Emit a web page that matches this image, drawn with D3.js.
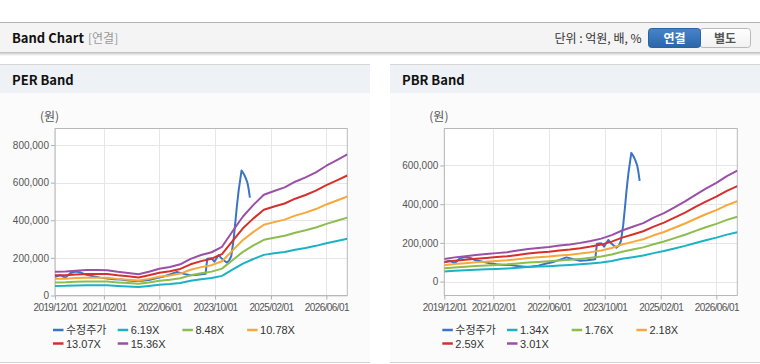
<!DOCTYPE html>
<html><head><meta charset="utf-8">
<script src="https://cdn.jsdelivr.net/npm/d3@7"></script>
<style>
html,body{margin:0;padding:0;background:#fff;}
svg{display:block;}
</style></head>
<body>
<svg id="chart" width="760" height="364"></svg>
<script>
// ---------- DATA ----------
const bandDates = ["2019-12-01","2020-03-01","2020-06-01","2020-09-01","2020-12-01","2021-03-01","2021-06-01","2021-09-01","2021-12-01","2022-03-01","2022-06-01","2022-09-01","2022-12-01","2023-03-01","2023-06-01","2023-09-01","2023-12-01","2024-03-01","2024-06-01","2024-09-01","2024-12-01","2025-03-01","2025-06-01","2025-09-01","2025-12-01","2026-03-01","2026-06-01","2026-09-01","2026-12-01"];

const priceDates = ["2019-12-01","2020-01-15","2020-03-01","2020-04-15","2020-06-01","2020-07-15","2020-09-01","2020-11-01","2021-01-01","2021-03-01","2021-05-01","2021-07-01","2021-09-01","2021-11-01","2022-01-01","2022-03-01","2022-05-01","2022-07-01","2022-09-01","2022-11-01","2023-01-01","2023-03-01","2023-05-01","2023-07-10","2023-07-25","2023-09-01","2023-09-25","2023-11-01","2023-12-01","2024-01-10","2024-02-01","2024-02-20","2024-03-10","2024-03-25","2024-04-10","2024-04-25","2024-05-20","2024-06-10","2024-06-25","2024-07-10","2024-07-20","2024-08-01"];
const priceValues = [100000,108000,95000,120000,127000,122000,110000,102000,95000,90000,86000,85000,80000,77000,78000,82000,92000,100000,112000,125000,115000,108000,110000,115000,195000,198000,180000,215000,195000,175000,185000,210000,290000,380000,480000,560000,665000,645000,625000,600000,570000,520000];

const perLabels = ["수정주가","6.19X","8.48X","10.78X","13.07X","15.36X"];
const per619  = [50800,51200,53200,54400,54400,54000,50800,48400,45500,50800,57200,61300,66900,78600,86600,92700,104400,137000,169300,194200,216000,224100,231700,243800,253100,264000,278100,290200,302300];
const per848  = [69600,70100,72900,74500,74500,74000,69600,66300,62400,69600,78400,83900,91600,107700,118700,127000,143000,187700,231900,266100,295900,307000,317500,334000,346700,361600,380900,397500,414100];
const per1078 = [88400,89100,92600,94700,94700,94000,88400,84200,79300,88400,99700,106700,116500,136900,150900,161400,181800,238600,294800,338300,376200,390200,403500,424600,440700,459700,484200,505300,526400];
const per1307 = [107200,108100,112300,114900,114900,114000,107200,102100,96200,107200,120800,129300,141200,165900,182900,195700,220400,289300,357400,410100,456100,473100,489300,514800,534400,557300,587100,612600,638200];
const per1536 = [126000,127000,132000,135000,135000,134000,126000,120000,113000,126000,142000,152000,166000,195000,215000,230000,259000,340000,420000,482000,536000,556000,575000,605000,628000,655000,690000,720000,750000];

const pbrLabels = ["수정주가","1.34X","1.76X","2.18X","2.59X","3.01X"];
const pbr134 = [52100,55700,58300,61000,63200,65400,67700,71200,74800,77500,79700,82800,85500,89000,93500,98800,106800,117500,126000,134400,146900,157600,171000,184300,199400,213700,227100,242600,255100];
const pbr176 = [68400,73100,76600,80100,83000,85900,88900,93600,98200,101700,104700,108800,112300,116900,122800,129800,140300,154400,165500,176600,192900,207000,224500,242100,261900,280700,298200,318700,335000];
const pbr218 = [84700,90500,94900,99200,102900,106500,110100,115900,121700,126000,129600,134700,139100,144900,152100,160800,173800,191200,205000,218700,239000,256400,278100,299900,324500,347700,369400,394700,415000];
const pbr259 = [100700,107600,112700,117900,122200,126500,130800,137700,144600,149700,154000,160100,165200,172100,180700,191000,206500,227200,243500,259900,284000,304600,330400,356200,385500,413000,438900,469000,493100];
const pbr301 = [117000,125000,131000,137000,142000,147000,152000,160000,168000,174000,179000,186000,192000,200000,210000,222000,240000,264000,283000,302000,330000,354000,384000,414000,448000,480000,510000,545000,573000];

const xTickLabels = ["2019/12/01","2021/02/01","2022/06/01","2023/10/01","2025/02/01","2026/06/01"];
const perYTicks = [0,200000,400000,600000,800000];
const pbrYTicks = [0,200000,400000,600000];
const xDomain = ["2019-12-01","2026-12-01"];
const perYDomain = [0,888000];
const pbrYDomain = [-72000,791000];

const colors = ["#3a74c6","#1cb2c6","#8cbd4f","#f6a93a","#d6302c","#9950a6"];

// ---------- DRAW ----------
const svg = d3.select("#chart");
const parse = d3.timeParse("%Y-%m-%d");
const parseTick = d3.timeParse("%Y/%m/%d");
const KR = "'Noto Sans CJK KR','Noto Sans',sans-serif";
const LAT = "'Liberation Sans','Noto Sans CJK KR',sans-serif";

// top bar
const defs = svg.append("defs");
const sh = defs.append("linearGradient").attr("id","shadow").attr("x1",0).attr("x2",0).attr("y1",0).attr("y2",1);
sh.append("stop").attr("offset","0").attr("stop-color","#cfcfcf");
sh.append("stop").attr("offset","1").attr("stop-color","#ffffff");
const bg1 = defs.append("linearGradient").attr("id","btnBlue").attr("x1",0).attr("x2",0).attr("y1",0).attr("y2",1);
bg1.append("stop").attr("offset","0").attr("stop-color","#4684c9");
bg1.append("stop").attr("offset","1").attr("stop-color","#2b66aa");
const bg2 = defs.append("linearGradient").attr("id","btnWhite").attr("x1",0).attr("x2",0).attr("y1",0).attr("y2",1);
bg2.append("stop").attr("offset","0").attr("stop-color","#ffffff");
bg2.append("stop").attr("offset","1").attr("stop-color","#f1f1f1");

svg.append("rect").attr("x",0).attr("y",22).attr("width",760).attr("height",31).attr("fill","#f4f4f4");
svg.append("rect").attr("x",0).attr("y",53).attr("width",760).attr("height",3).attr("fill","url(#shadow)");
svg.append("line").attr("x1",0).attr("x2",760).attr("y1",22.5).attr("y2",22.5).attr("stroke","#b3b3b3");
svg.append("line").attr("x1",0).attr("x2",760).attr("y1",52.5).attr("y2",52.5).attr("stroke","#c4c4c4");

svg.append("text").attr("x",12).attr("y",43).attr("font-family",KR).attr("font-weight","bold")
  .attr("font-size",13).attr("fill","#111").text("Band Chart");
svg.append("text").attr("x",88).attr("y",43).attr("font-family",KR)
  .attr("font-size",12).attr("fill","#999").text("[연결]");
svg.append("text").attr("x",641.5).attr("y",43).attr("text-anchor","end").attr("font-family",KR)
  .attr("font-size",12).attr("fill","#333").text("단위 : 억원, 배, %");

svg.append("rect").attr("x",700).attr("y",28.5).attr("width",50.5).attr("height",19).attr("rx",3)
  .attr("fill","url(#btnWhite)").attr("stroke","#b9b9b9");
svg.append("rect").attr("x",648.5).attr("y",28.5).attr("width",52).attr("height",19).attr("rx",3)
  .attr("fill","url(#btnBlue)").attr("stroke","#2a62a3");
svg.append("text").attr("x",674.5).attr("y",42.5).attr("text-anchor","middle").attr("font-family",KR)
  .attr("font-weight","bold").attr("font-size",12).attr("fill","#fff").text("연결");
svg.append("text").attr("x",725).attr("y",42.5).attr("text-anchor","middle").attr("font-family",KR)
  .attr("font-weight","bold").attr("font-size",12).attr("fill","#555").text("별도");

function drawPanel(opt){
  const g = svg.append("g");
  const px0 = opt.px0, px1 = opt.px1;
  g.append("rect").attr("x",px0).attr("y",64).attr("width",px1-px0).attr("height",299).attr("fill","#fbfbfb");
  g.append("rect").attr("x",px0).attr("y",64).attr("width",px1-px0).attr("height",29).attr("fill","#eef1f6");
  g.append("line").attr("x1",px0).attr("x2",px1).attr("y1",64.5).attr("y2",64.5).attr("stroke","#d6d6d6");
  g.append("line").attr("x1",px0).attr("x2",px1).attr("y1",362.5).attr("y2",362.5).attr("stroke","#d2d2d2");
  g.append("text").attr("x",px0+12).attr("y",85).attr("font-family",KR).attr("font-weight","bold")
    .attr("font-size",13).attr("fill","#111").text(opt.title);
  g.append("text").attr("x",opt.left-15).attr("y",121).attr("font-family",KR)
    .attr("font-size",12).attr("fill","#555").text("(원)");

  const top = 128.5, bottom = 295.5;
  const x = d3.scaleTime().domain(xDomain.map(parse)).range([opt.left, opt.right]);
  const y = d3.scaleLinear().domain(opt.yDomain).range([bottom, top]);

  g.append("rect").attr("x",opt.left).attr("y",top).attr("width",opt.right-opt.left).attr("height",bottom-top)
    .attr("fill","#fff");

  const xt = xTickLabels.map(parseTick);
  // grid
  g.append("g").selectAll("line").data(opt.yTicks).join("line")
    .attr("x1",opt.left).attr("x2",opt.right)
    .attr("y1",d=>Math.round(y(d))+0.5).attr("y2",d=>Math.round(y(d))+0.5)
    .attr("stroke","#e6e6e6");
  g.append("g").selectAll("line").data(xt).join("line")
    .attr("x1",d=>Math.round(x(d))+0.5).attr("x2",d=>Math.round(x(d))+0.5)
    .attr("y1",top).attr("y2",bottom)
    .attr("stroke","#e6e6e6");

  // axes
  const yAxis = d3.axisLeft(y).tickValues(opt.yTicks).tickFormat(d3.format(",")).tickSize(4).tickPadding(2);
  const ya = g.append("g").attr("transform",`translate(${opt.left},0)`).call(yAxis);
  ya.select(".domain").remove();
  ya.selectAll(".tick line").attr("stroke","#b0b0b0");
  ya.selectAll("text").attr("font-family",LAT).attr("font-size",10).attr("fill","#555");

  const xAxis = d3.axisBottom(x).tickValues(xt).tickFormat((d,i)=>xTickLabels[i]).tickSize(4).tickPadding(4);
  const xa = g.append("g").attr("transform",`translate(0,${bottom})`).call(xAxis);
  xa.select(".domain").remove();
  xa.selectAll(".tick line").attr("stroke","#b0b0b0");
  xa.selectAll("text").attr("font-family",LAT).attr("font-size",10).attr("letter-spacing","-0.6px").attr("fill","#555");

  // frame
  g.append("rect").attr("x",opt.left).attr("y",top).attr("width",opt.right-opt.left).attr("height",bottom-top)
    .attr("fill","none").attr("stroke","#b8b8b8");

  // clip
  const cid = "clip"+opt.title.replace(/\s/g,"");
  defs.append("clipPath").attr("id",cid).append("rect")
    .attr("x",opt.left).attr("y",top).attr("width",opt.right-opt.left).attr("height",bottom-top);
  const lines = g.append("g").attr("clip-path",`url(#${cid})`);
  const line = d3.line().x(d=>x(d[0])).y(d=>y(d[1]));

  const price = priceDates.map((d,i)=>[parse(d), priceValues[i]]);
  lines.append("path").datum(price).attr("d",line).attr("fill","none")
    .attr("stroke",colors[0]).attr("stroke-width",2).attr("stroke-linejoin","round");
  opt.bands.forEach((arr,k)=>{
    const pts = bandDates.map((d,i)=>[parse(d), arr[i]]);
    lines.append("path").datum(pts).attr("d",line).attr("fill","none")
      .attr("stroke",colors[k+1]).attr("stroke-width",2).attr("stroke-linejoin","round");
  });

  // legend
  const lg = g.append("g");
  opt.labels.forEach((lab,i)=>{
    const col = i%4, row = Math.floor(i/4);
    const lx = opt.left - 2 + col*64.7;
    const ly = 330 + row*13.5;
    lg.append("line").attr("x1",lx).attr("x2",lx+10.5).attr("y1",ly).attr("y2",ly)
      .attr("stroke",colors[i]).attr("stroke-width",2.5);
    lg.append("text").attr("x",lx+13).attr("y",ly+4).attr("font-family",LAT)
      .attr("font-size",11).attr("fill","#333").text(lab);
  });
}

drawPanel({px0:0, px1:370, title:"PER Band", left:55, right:347.3, yDomain:perYDomain, yTicks:perYTicks,
  bands:[per619,per848,per1078,per1307,per1536], labels:perLabels});
drawPanel({px0:390, px1:760, title:"PBR Band", left:444.3, right:737.3, yDomain:pbrYDomain, yTicks:pbrYTicks,
  bands:[pbr134,pbr176,pbr218,pbr259,pbr301], labels:pbrLabels});
</script>
</body></html>
